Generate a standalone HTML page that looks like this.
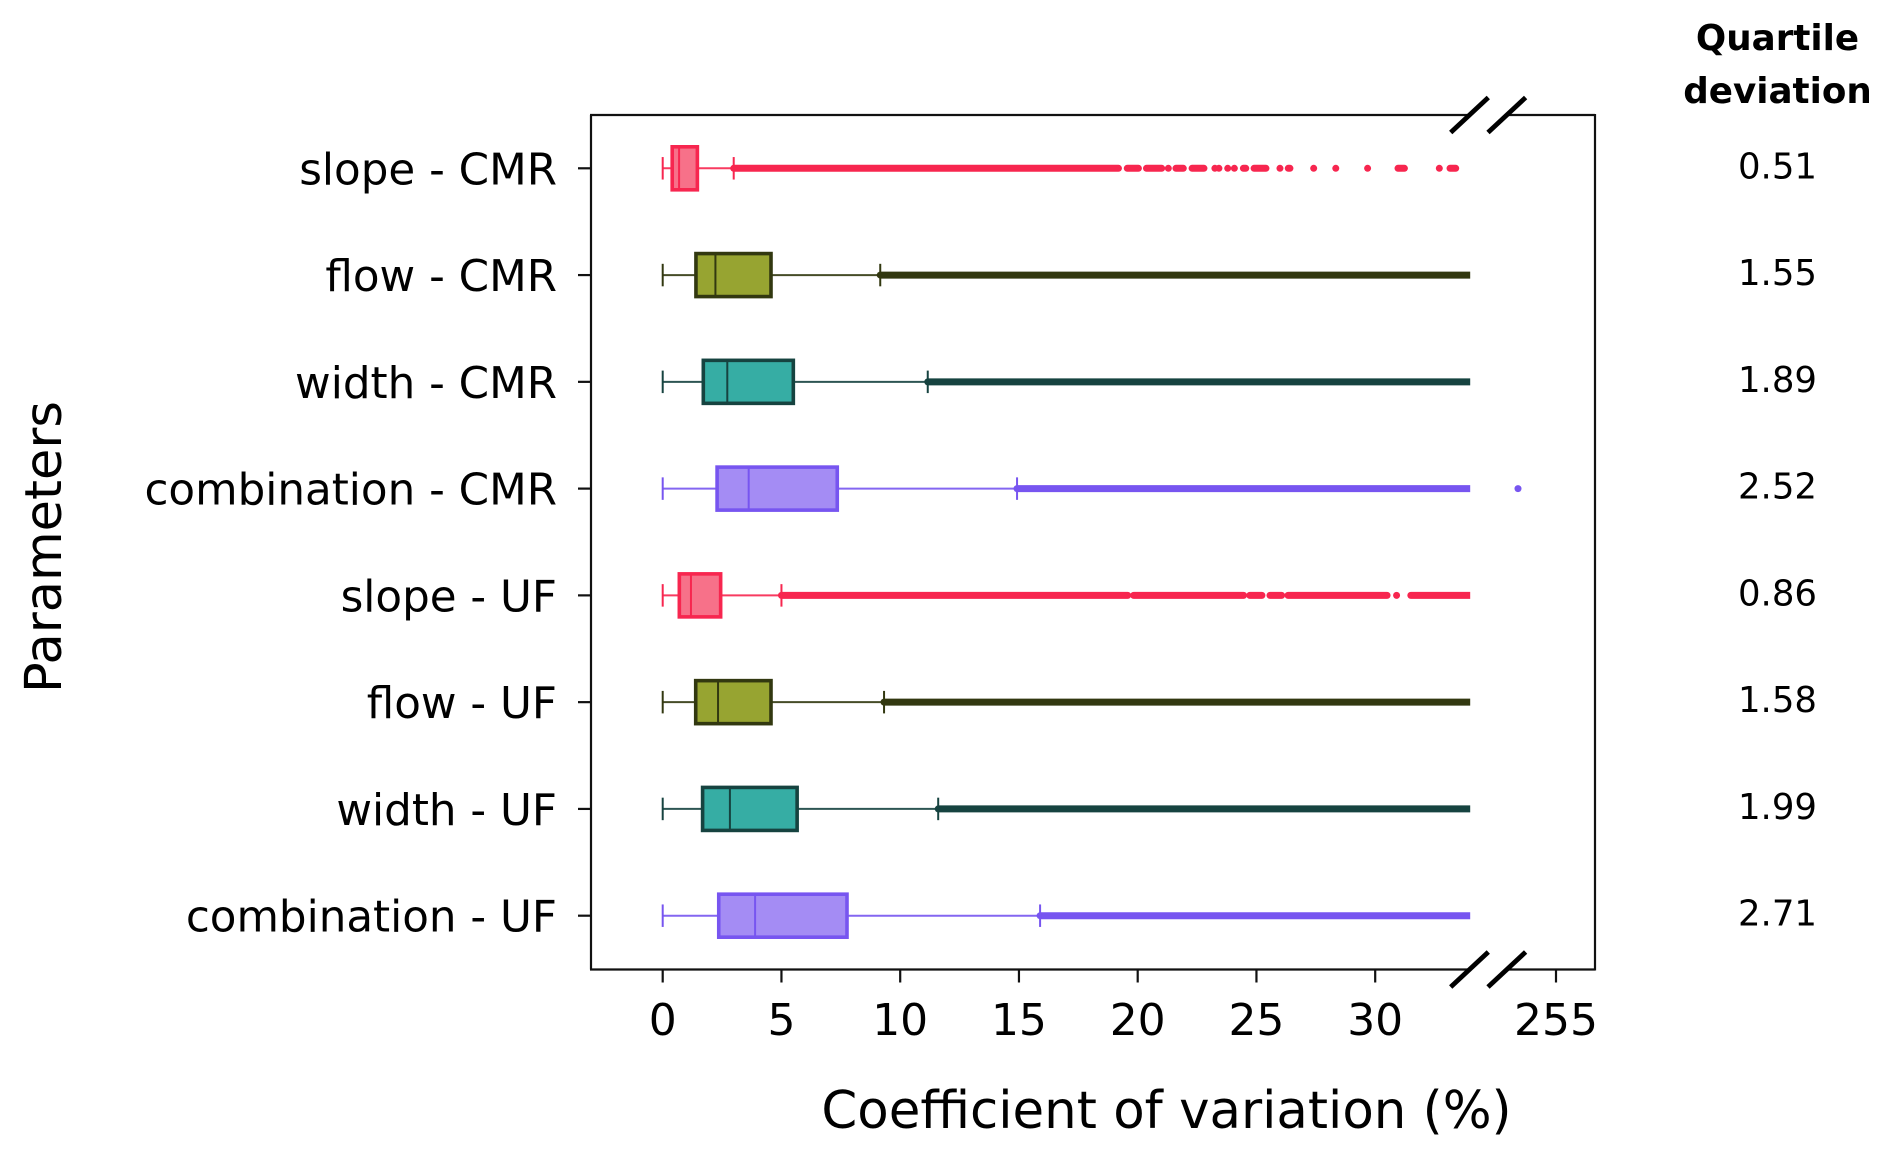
<!DOCTYPE html>
<html lang="en">
<head>
<meta charset="utf-8">
<title>Coefficient of variation by parameter</title>
<style>
  html, body { margin: 0; padding: 0; background: #fff; }
  svg { display: block; font-family: "DejaVu Sans", "Liberation Sans", sans-serif; }
  text { fill: #000; }
</style>
</head>
<body>
<svg id="chart" xmlns="http://www.w3.org/2000/svg" width="1892" height="1157" viewBox="0 0 1892 1157">
  <rect x="0" y="0" width="1892" height="1157" fill="#ffffff"/>
  <defs>
    <clipPath id="lower-clip"><rect id="lower-clip-rect" x="0" y="0" width="0" height="1157"/></clipPath>
  </defs>
  <g id="marks"></g>
  <g id="spines" stroke="#111" stroke-width="2.2" fill="none"></g>
  <g id="x-axis"></g>
  <g id="y-axis"></g>
  <g id="breaks" stroke="#000" stroke-width="4.8"></g>
  <text x="1166.5" y="1128" font-size="51.4" text-anchor="middle">Coefficient of variation (%)</text>
  <text x="0" y="0" font-size="51" text-anchor="middle" transform="translate(61 547) rotate(-90)">Parameters</text>
  <text x="1777.5" y="50" font-size="35.7" font-weight="bold" text-anchor="middle">Quartile</text>
  <text x="1777.5" y="103" font-size="35.7" font-weight="bold" text-anchor="middle">deviation</text>
  <g id="quartile-values"></g>
</svg>
<script>
// ---- data ----
const categories = ['slope - CMR', 'flow - CMR', 'width - CMR', 'combination - CMR', 'slope - UF', 'flow - UF', 'width - UF', 'combination - UF'];
const whiskerLow = [0, 0, 0, 0, 0, 0, 0, 0];
const q1 = [0.40, 1.40, 1.71, 2.29, 0.70, 1.39, 1.68, 2.36];
const median = [0.69, 2.22, 2.72, 3.62, 1.19, 2.33, 2.83, 3.89];
const q3 = [1.46, 4.56, 5.50, 7.35, 2.44, 4.56, 5.66, 7.76];
const whiskerHigh = [2.99, 9.16, 11.16, 14.92, 5.00, 9.32, 11.60, 15.89];
const outlierBands = [
  [[2.99, 19.19], [19.56, 20.03], [20.37, 21.01], [21.61, 21.92], [22.29, 22.79], [24.45, 24.55], [24.9, 25.4], [26.34, 26.41], [30.96, 31.23], [33.15, 33.39]],
  [[9.16, 34.2]],
  [[11.16, 34.2]],
  [[14.92, 34.2]],
  [[5.00, 19.58], [19.83, 24.46], [24.72, 25.23], [25.57, 26.06], [26.33, 30.5], [31.5, 34.2]],
  [[9.32, 34.2]],
  [[11.60, 34.2]],
  [[15.89, 34.2]]
];
const outlierPoints = [
  [21.29, 23.25, 23.42, 23.79, 24.07, 25.99, 27.41, 28.34, 29.68, 32.7],
  [],
  [],
  [253.4],
  [30.9],
  [],
  [],
  []
];
const quartileDeviation = ['0.51', '1.55', '1.89', '2.52', '0.86', '1.58', '1.99', '2.71'];
const xTicks = [0, 5, 10, 15, 20, 25, 30, 255];
const strokeColors = ['#f7264f', '#323810', '#164340', '#7755f0'];
const fillColors = ['#f77189', '#97a431', '#36ada4', '#a48cf4'];

// ---- layout and axis functions ----
const plot = { left: 591, right: 1595, top: 115, bottom: 969.5 };
const gapLeft = 1469, gapRight = 1507;
const lowerMax = 34;
function x(v) {
  return v <= lowerMax + 1 ? 662.7 + v * 23.75 : 1556 + (v - 255) * 23.75;
}
function y(i) {
  return 168.3 + i * 106.77;
}

const NS = 'http://www.w3.org/2000/svg';
function make(tag, parent, attrs) {
  const el = document.createElementNS(NS, tag);
  for (const k in attrs) el.setAttribute(k, attrs[k]);
  parent.appendChild(el);
  return el;
}

document.getElementById('lower-clip-rect').setAttribute('width', x(lowerMax));

// frame
const spines = document.getElementById('spines');
const frameLeft = make('path', spines, { d: `M${plot.left} ${plot.top}V${plot.bottom}` });


const frameRight = make('path', spines, { d: `M${plot.right} ${plot.top - 1}V${plot.bottom + 1}` });


const frameTop = make('path', spines, { d: `M${plot.left - 1} ${plot.top}H${gapLeft}M${gapRight} ${plot.top}H${plot.right}` });


const frameBottom = make('path', spines, { d: `M${plot.left - 1} ${plot.bottom}H${gapLeft}M${gapRight} ${plot.bottom}H${plot.right}` });



// break slashes
const breaks = document.getElementById('breaks');
[plot.top, plot.bottom].forEach(function (cy) {
  [1469.5, 1506.8].forEach(function (cx) {
    const slash = make('line', breaks, { x1: cx - 18.8, y1: cy + 17.5, x2: cx + 18.8, y2: cy - 17.5 });
    
    
  });
});

// x axis
const xAxis = document.getElementById('x-axis');
xTicks.forEach(function (t) {
  const tick = make('line', xAxis, { x1: x(t), x2: x(t), y1: plot.bottom, y2: plot.bottom + 13, stroke: '#111', 'stroke-width': 2.2 });
  
  
  const label = make('text', xAxis, { x: x(t), y: 1035, 'font-size': 44, 'text-anchor': 'middle' });
  
  
  label.textContent = String(t);
});

// y axis
const yAxis = document.getElementById('y-axis');
categories.forEach(function (c, i) {
  const tick = make('line', yAxis, { x1: plot.left - 13, x2: plot.left, y1: y(i), y2: y(i), stroke: '#111', 'stroke-width': 2.2 });
  
  
  const label = make('text', yAxis, { x: 557, y: y(i) + 16, 'font-size': 43.6, 'text-anchor': 'end' });
  
  
  label.textContent = c;
});

// boxes
const marks = document.getElementById('marks');
const boxHeight = 43, capHeight = 22.5;
categories.forEach(function (c, i) {
  const stroke = strokeColors[i % 4];
  const fill = fillColors[i % 4];
  const cy = y(i);
  const g = make('g', marks, {});
  
  

  const whisker = make('path', g, {
    d: `M${x(whiskerLow[i])} ${cy}H${x(q1[i])}M${x(q3[i])} ${cy}H${x(whiskerHigh[i])}`,
    stroke: stroke, 'stroke-width': 2, fill: 'none', opacity: 0.9
  });
  
  

  outlierBands[i].forEach(function (band) {
    const run = make('line', g, {
      x1: x(band[0]), x2: x(band[1]), y1: cy, y2: cy,
      stroke: stroke, 'stroke-width': 7, 'stroke-linecap': 'round', 'clip-path': 'url(#lower-clip)'
    });
    
    
  });
  outlierPoints[i].forEach(function (v) {
    const dot = make('circle', g, { cx: x(v), cy: cy, r: 3.5, fill: stroke });
    
    
  });

  [whiskerLow[i], whiskerHigh[i]].forEach(function (v) {
    const cap = make('line', g, {
      x1: x(v), x2: x(v), y1: cy - capHeight / 2, y2: cy + capHeight / 2,
      stroke: stroke, 'stroke-width': 2
    });
    
    
  });

  const box = make('rect', g, {
    x: x(q1[i]), y: cy - boxHeight / 2, width: x(q3[i]) - x(q1[i]), height: boxHeight,
    fill: fill, stroke: stroke, 'stroke-width': 3.6
  });
  
  

  const med = make('line', g, {
    x1: x(median[i]), x2: x(median[i]), y1: cy - boxHeight / 2, y2: cy + boxHeight / 2,
    stroke: stroke, 'stroke-width': 2
  });
  
  
});

// quartile deviation column
const qv = document.getElementById('quartile-values');
quartileDeviation.forEach(function (val, i) {
  const t = make('text', qv, { x: 1777.5, y: y(i) + 10, 'font-size': 35.5, 'text-anchor': 'middle' });
  
  
  t.textContent = val;
});
</script>
</body>
</html>
